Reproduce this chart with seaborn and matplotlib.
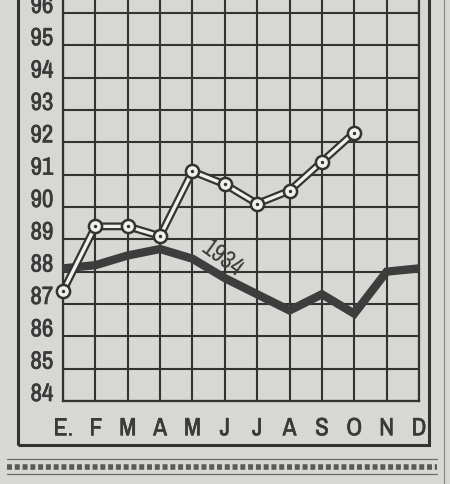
import matplotlib
matplotlib.use("Agg")
import matplotlib.pyplot as plt
import seaborn as sns
import pandas as pd
from matplotlib.lines import Line2D
from matplotlib.patches import Rectangle
from matplotlib import font_manager
import matplotlib.patheffects as pe

# ---- data ----
months = ["E.", "F", "M", "A", "M", "J", "J", "A", "S", "O", "N", "D"]
values_1934 = [88.1, 88.2, 88.5, 88.7, 88.4, 87.8, 87.3, 86.8, 87.3, 86.7, 88.0, 88.1]
values_1935 = [87.4, 89.4, 89.4, 89.1, 91.1, 90.7, 90.1, 90.5, 91.4, 92.3]
y_ticks = list(range(84, 97))
label_1934 = "1934"

paper = "#d7d7d3"
ink = "#333333"
txt = "#3a3a3a"

sns.set_style("white", {"axes.facecolor": paper, "figure.facecolor": paper})
names = sorted({f.name for f in font_manager.fontManager.ttflist})
narrow = [n for n in names if "Narrow" in n or "Condensed" in n]
plt.rcParams["font.family"] = (narrow[:1] if narrow else []) + ["DejaVu Sans"]
plt.rcParams["font.stretch"] = "condensed"
thick = [pe.withStroke(linewidth=0.45, foreground=txt)]

df34 = pd.DataFrame({"m": range(len(values_1934)), "v": values_1934})
df35 = pd.DataFrame({"m": range(len(values_1935)), "v": values_1935})

fig = plt.figure(figsize=(4.5, 4.84), dpi=100, facecolor=paper)
ax = fig.add_axes([63 / 450, 83 / 484, 356 / 450, 401 / 484])
ax.set_facecolor(paper)

# grid
ax.set_xlim(0, 11)
ax.set_ylim(84, 96.40)
ax.set_xticks(range(len(months)))
ax.set_xticklabels(months, fontsize=18, color=txt)
ax.set_yticks(y_ticks)
ax.set_yticklabels([str(v) for v in y_ticks], fontsize=18, color=txt, va="baseline")
for lab in ax.get_xticklabels() + ax.get_yticklabels():
    lab.set_path_effects(thick)
ax.grid(True, color=ink, lw=1.5)
ax.tick_params(axis="both", length=0)
ax.tick_params(axis="x", pad=11)
ax.tick_params(axis="y", pad=7)
for s in ["left", "right", "bottom"]:
    ax.spines[s].set_visible(True)
    ax.spines[s].set_color(ink)
    ax.spines[s].set_linewidth(1.6)
ax.spines["top"].set_visible(False)

# 1934 thick line
sns.lineplot(data=df34, x="m", y="v", ax=ax, color="#3d3d3d", lw=6,
             solid_capstyle="butt", solid_joinstyle="miter", clip_on=False, zorder=3)
ax.text(4.92, 88.42, label_1934, rotation=-36, fontsize=18, color=txt,
        ha="center", va="center", zorder=4)

# other year: outlined white line with ring markers
sns.lineplot(data=df35, x="m", y="v", ax=ax, color=ink, lw=5.6,
             solid_capstyle="round", clip_on=False, zorder=5)
sns.lineplot(data=df35, x="m", y="v", ax=ax, color="#f0f0ec", lw=2.4,
             solid_capstyle="butt", clip_on=False, zorder=6)
sns.scatterplot(data=df35, x="m", y="v", ax=ax, s=90, color="#f0f0ec",
                edgecolor=ink, linewidth=1.8, clip_on=False, zorder=7)
sns.scatterplot(data=df35, x="m", y="v", ax=ax, s=6, color=ink,
                edgecolor=ink, linewidth=0, clip_on=False, zorder=8)
ax.set_xlabel("")
ax.set_ylabel("")

# outer frame and page decorations
fig.add_artist(Rectangle((18 / 450, 1 - 445 / 484), (429 - 18) / 450, 1.0,
                         fill=False, edgecolor=ink, lw=2.2, transform=fig.transFigure))
fig.add_artist(Line2D([444 / 450, 444 / 450], [0, 1], color="#8a8a86", lw=0.9,
                      transform=fig.transFigure))
fig.add_artist(Line2D([7 / 450, 437 / 450], [1 - 459 / 484] * 2, color="#6a6a66", lw=0.9,
                      transform=fig.transFigure))
fig.add_artist(Line2D([7 / 450, 437 / 450], [1 - 474 / 484] * 2, color="#6a6a66", lw=0.9,
                      transform=fig.transFigure))
fig.add_artist(Line2D([7 / 450, 437 / 450], [1 - 466.5 / 484] * 2, color="#5a5a56", lw=4,
                      dashes=(0.9, 0.5), transform=fig.transFigure))

fig.savefig("out.png", dpi=100, facecolor=paper)
